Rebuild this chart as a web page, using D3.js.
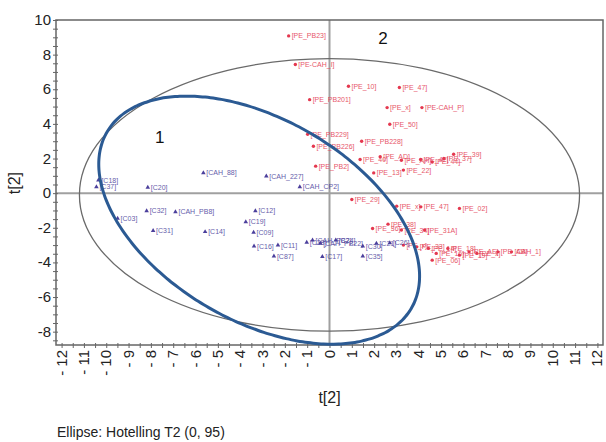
<!DOCTYPE html>
<html>
<head>
<meta charset="utf-8">
<script src="https://cdn.jsdelivr.net/npm/d3@7"></script>
<style>
  body { margin: 0; background: #fff; }
  text { font-family: "Liberation Sans", Arial, sans-serif; }
</style>
</head>
<body>
<div id="chart"></div>
<script>
/* PCA score plot with Hotelling ellipse */

// red group (PE samples)
const peNames = ["[PE_PB23]", "[PE-CAH_I]", "[PE_10]", "[PE_47]", "[PE_PB201]", "[PE_x]", "[PE-CAH_P]", "[PE_50]",
    "[PE_PB229]", "[PE_PB228]", "[PE_PB226]", "[PE_40]", "[PE_AD]", "[PE_AH]", "[PE_42]", "[PE_44]", "[PE_39]", "[PE_37]",
    "[PE_PB2]", "[PE_13]", "[PE_22]", "[PE_29]", "[PE_x]", "[PE_47]", "[PE_02]", "[PE_36]", "[PE_38]", "[PE_34]", "[PE_31A]",
    "[PE_x]", "[PE_33]", "[PE_14]", "[PE_16]", "[PE_18]", "[PE_19]", "[PE_AE]", "[PE_x]", "[PE_AB]", "[CAH_1]", "[PE_06]"];
const peX = [-1.83, -1.53, 0.85, 3.13, -0.89, 2.58, 4.14, 2.70,
    -0.98, 1.44, -0.72, 1.37, 2.27, 3.22, 4.08, 4.60, 5.56, 5.12,
    -0.62, 1.98, 3.31, 1.00, 3.01, 4.09, 5.82, 1.93, 2.62, 3.22, 4.26,
    3.31, 3.91, 4.43, 4.78, 5.30, 5.82, 6.25, 6.60, 7.54, 8.15, 4.60];
const peY = [9.08, 7.43, 6.17, 6.10, 5.40, 4.94, 4.94, 3.98,
    3.40, 3.00, 2.71, 1.94, 2.10, 1.90, 1.94, 1.80, 2.25, 2.00,
    1.56, 1.17, 1.33, -0.37, -0.75, -0.79, -0.88, -2.04, -1.79, -2.13, -2.13,
    -3.00, -3.10, -3.19, -3.48, -3.19, -3.58, -3.39, -3.48, -3.39, -3.39, -3.87];

// blue group (C samples)
const cNames = ["[C18]", "[C37]", "[C20]", "[CAH_88]", "[CAH_227]", "[CAH_CP2]", "[C03]", "[C32]", "[CAH_PB8]",
    "[C31]", "[C14]", "[C12]", "[C19]", "[C09]", "[C16]", "[C11]", "[C87]", "[C28]", "[CAH_PB2]", "[CAH_PB22]",
    "[C24]", "[C17]", "[C35]", "[C30]", "[C21]", "[C26]"];
const cX = [-10.35, -10.44, -8.14, -5.65, -2.83, -1.33, -9.49, -8.19, -6.90,
    -7.90, -5.57, -3.32, -3.75, -3.40, -3.38, -2.31, -2.49, -1.02, -0.76, -0.41,
    0.28, -0.32, 1.49, 1.49, 2.10, 2.70];
const cY = [0.75, 0.36, 0.33, 1.17, 0.98, 0.36, -1.46, -1.02, -1.08,
    -2.17, -2.23, -1.02, -1.66, -2.27, -3.06, -3.00, -3.64, -2.85, -2.71, -2.90,
    -2.71, -3.67, -3.64, -3.06, -2.90, -2.87];

// axis ticks
const xTicks = d3.range(-12, 13);
const yTicks = [-8, -6, -4, -2, 0, 2, 4, 6, 8, 10];

// Hotelling T2 ellipse (center, radii) and hand drawn group ellipse (center + two half-diameters, data units)
const hotelling = { cx: 0, cy: -0.1, rx: 11.2, ry: 7.87 };
const groupEllipse = { cx: -3.15, cy: -1.56, u: [6.82, -5.08], v: [-2.26, -5.05] };
const groupLabels = [{ t: "1", x: -7.6, y: 2.9 }, { t: "2", x: 2.4, y: 8.6 }];

const width = 606, height = 442,
      margin = ({ top: 20, right: 2, bottom: 97, left: 56 });

let svg = d3.select("#chart")
    .append("svg")
    .attr("width", width)
    .attr("height", height);

let x = d3.scaleLinear()
    .domain([-12.25, 12.25])
    .range([margin.left, width - margin.right - 1]);

let y = d3.scaleLinear()
    .domain([-8.77, 10])
    .range([height - margin.bottom, margin.top]);

const x0 = margin.left, x1 = width - margin.right - 1,
      y0 = margin.top, y1 = height - margin.bottom;

// zero lines
svg.append("line")
    .attr("x1", x0).attr("x2", x1)
    .attr("y1", y(0)).attr("y2", y(0))
    .attr("stroke", "#a0a0a0").attr("stroke-width", 2);
svg.append("line")
    .attr("x1", x(0)).attr("x2", x(0))
    .attr("y1", y0).attr("y2", y1)
    .attr("stroke", "#a0a0a0").attr("stroke-width", 2);

// hotelling ellipse
svg.append("ellipse")
    .attr("cx", x(hotelling.cx))
    .attr("cy", y(hotelling.cy))
    .attr("rx", x(hotelling.rx) - x(0))
    .attr("ry", y(0) - y(hotelling.ry))
    .attr("fill", "none")
    .attr("stroke", "#6a6a6a")
    .attr("stroke-width", 1.3);

// frame
svg.append("rect")
    .attr("x", x0).attr("y", y0)
    .attr("width", x1 - x0).attr("height", y1 - y0)
    .attr("fill", "none")
    .attr("stroke", "#666")
    .attr("stroke-width", 1.5);

// axes (minor ticks every 0.5)
svg.append("g")
    .attr("transform", `translate(0,${y1})`)
    .call(d3.axisBottom(x).tickValues(d3.range(-12, 12.5, 0.5)).tickSize(3).tickFormat(""))
    .call(g => g.select(".domain").remove())
    .call(g => g.selectAll("line").attr("stroke", "#666").attr("y1", -2));

svg.append("g")
    .attr("transform", `translate(${x0},0)`)
    .call(d3.axisLeft(y).tickValues(d3.range(-8.5, 10.01, 0.5)).tickSize(3).tickFormat(""))
    .call(g => g.select(".domain").remove())
    .call(g => g.selectAll("line").attr("stroke", "#666").attr("x1", 2));

// x tick labels, rotated
svg.append("g")
    .selectAll("text")
    .data(xTicks)
    .join("text")
    .attr("transform", d => `translate(${x(d) + 5},${y1 + 5}) rotate(-90)`)
    .attr("text-anchor", "end")
    .attr("font-size", 15)
    .attr("fill", "#222")
    .text(d => d < 0 ? "- " + Math.abs(d) : d);

// y tick labels
svg.append("g")
    .selectAll("text")
    .data(yTicks)
    .join("text")
    .attr("x", x0 - 5)
    .attr("y", d => y(d) + 5)
    .attr("text-anchor", "end")
    .attr("font-size", 15)
    .attr("fill", "#222")
    .text(d => d);

// points
const red = "#e4384f", blue = "#4b3f9c";
const pe = peNames.map((n, i) => ({ n, x: peX[i], y: peY[i] }));
const cs = cNames.map((n, i) => ({ n, x: cX[i], y: cY[i] }));

function drawGroup(data, color, shape) {
    let g = svg.append("g").selectAll("g")
        .data(data)
        .join("g")
        .attr("transform", d => `translate(${x(d.x)},${y(d.y)})`);
    g.append("path")
        .attr("d", d3.symbol().type(shape).size(9))
        .attr("fill", color);
    g.append("text")
        .attr("x", 3)
        .attr("y", 2.5)
        .attr("font-size", 7)
        .attr("fill", color)
        .attr("opacity", 0.85)
        .text(d => d.n);
}
drawGroup(pe, red, d3.symbolCircle);
drawGroup(cs, blue, d3.symbolTriangle);

// group ellipse
const ge = groupEllipse;
const ring = d3.range(0, 2 * Math.PI + 0.01, Math.PI / 90).map(t => [
    ge.cx + ge.u[0] * Math.cos(t) + ge.v[0] * Math.sin(t),
    ge.cy + ge.u[1] * Math.cos(t) + ge.v[1] * Math.sin(t)
]);
svg.append("path")
    .datum(ring)
    .attr("d", d3.line().x(d => x(d[0])).y(d => y(d[1])).curve(d3.curveCardinalClosed))
    .attr("fill", "none")
    .attr("stroke", "#2b5a93")
    .attr("stroke-width", 3);

svg.append("g")
    .selectAll("text")
    .data(groupLabels)
    .join("text")
    .attr("x", d => x(d.x))
    .attr("y", d => y(d.y))
    .attr("text-anchor", "middle")
    .attr("font-size", 17)
    .attr("fill", "#111")
    .text(d => d.t);

// axis titles
svg.append("text")
    .attr("transform", `translate(20,${y(0) - 10}) rotate(-90)`)
    .attr("text-anchor", "middle")
    .attr("font-size", 16)
    .attr("fill", "#222")
    .text("t[2]");

svg.append("text")
    .attr("x", x(0))
    .attr("y", 403)
    .attr("text-anchor", "middle")
    .attr("font-size", 16)
    .attr("fill", "#222")
    .text("t[2]");

svg.append("text")
    .attr("x", 57)
    .attr("y", 437)
    .attr("font-size", 14)
    .attr("fill", "#222")
    .text("Ellipse: Hotelling T2 (0, 95)");
</script>
</body>
</html>
